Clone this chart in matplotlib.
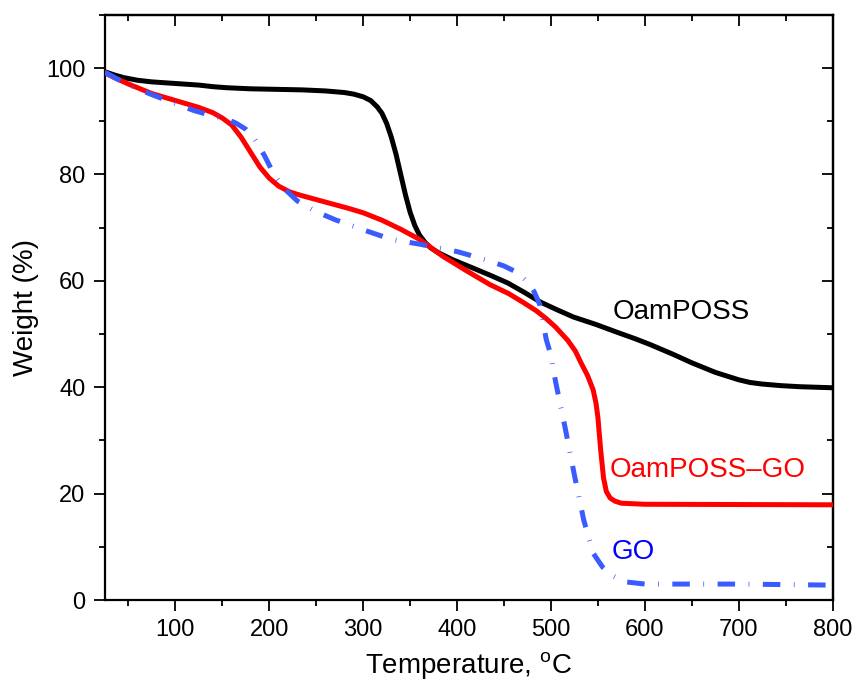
import matplotlib
matplotlib.use('Agg')
import matplotlib.pyplot as plt
from matplotlib.ticker import MultipleLocator

plt.rcParams['font.family'] = ['Liberation Sans', 'DejaVu Sans']
plt.rcParams['mathtext.fontset'] = 'custom'
plt.rcParams['mathtext.rm'] = 'Liberation Sans'

# OamPOSS (black)
poss_t = [25, 35, 45, 60, 75, 100, 125, 140, 155, 180, 235, 260, 280, 290, 300, 308, 315, 320,
          325, 330, 335, 340, 345, 350, 355, 360, 366, 372, 380, 395, 417, 436, 454, 472, 489,
          506, 524, 548, 571, 590, 606, 630, 650, 675, 700, 712, 725, 745, 765, 800]
poss_w = [99.3, 98.7, 98.2, 97.7, 97.4, 97.1, 96.8, 96.5, 96.3, 96.1, 95.9, 95.7, 95.4, 95.1, 94.6, 93.9, 92.7, 91.5,
          89.6, 87.0, 83.8, 80.0, 76.2, 72.9, 70.4, 68.6, 67.2, 66.2, 65.3, 64.0, 62.4, 61.0, 59.6, 57.8, 56.0,
          54.6, 53.2, 51.8, 50.3, 49.1, 48.0, 46.2, 44.6, 42.8, 41.4, 40.9, 40.6, 40.3, 40.1, 39.9]

# OamPOSS-GO (red)
hyb_t = [25, 35, 50, 75, 100, 125, 140, 150, 160, 170, 180, 190, 200, 210, 222, 235, 260, 285,
         300, 320, 340, 360, 385, 410, 435, 455, 470, 485, 495, 505, 518, 526, 532, 539, 545,
         548, 550, 553, 556, 559, 563, 568, 575, 600, 800]
hyb_w = [99.1, 98.2, 97.0, 95.2, 93.9, 92.6, 91.6, 90.6, 89.3, 87.0, 84.2, 81.4, 79.3, 77.8, 76.7, 76.0, 74.8, 73.6,
         72.8, 71.4, 69.7, 67.8, 64.6, 61.9, 59.3, 57.6, 56.0, 54.3, 52.9, 51.3, 48.8, 46.8, 44.6, 42.2, 39.5,
         37.0, 34.4, 28.2, 23.0, 20.4, 19.2, 18.6, 18.2, 18.0, 17.9]

# GO (blue dashed)
go_t = [25, 50, 75, 100, 120, 140, 155, 165, 175, 185, 195, 205, 215, 230, 250, 270, 300, 330,
        360, 400, 430, 450, 465, 475, 482, 488, 495, 500, 505, 515, 525, 535, 545, 555, 565,
        580, 600, 700, 800]
go_w = [99.2, 96.8, 95.0, 93.3, 92.0, 91.0, 90.4, 89.6, 88.5, 86.5, 83.5, 80.0, 77.5, 75.0, 73.0, 71.5, 69.6, 67.8,
        66.9, 65.5, 64.0, 62.8, 61.5, 59.8, 58.0, 55.6, 49.0, 46.0, 41.0, 32.5, 23.5, 15.0, 8.8, 6.2, 4.6,
        3.4, 3.0, 3.0, 2.8]

fig = plt.figure(figsize=(8.57, 6.82), dpi=100)
ax = fig.add_axes([0.1225, 0.1202, 0.849, 0.858])

ax.plot(poss_t, poss_w, color='black', lw=3.6, solid_joinstyle='round', zorder=2)
ax.plot(hyb_t, hyb_w, color='#ff0000', lw=3.6, solid_joinstyle='round', zorder=3)
ax.plot(go_t, go_w, color='#3a5cff', lw=3.6, dashes=(3.5, 2.7, 0.15, 2.7),
        dash_capstyle='butt', zorder=4)

ax.text(566, 54.2, 'OamPOSS', color='black', fontsize=20, va='center')
ax.text(563, 24.4, 'OamPOSS\u2013GO', color='#ff0000', fontsize=20, va='center')
ax.text(565, 9.0, 'GO', color='#0000ff', fontsize=20, va='center')

ax.set_xlim(25, 800)
ax.set_ylim(0, 110)
ax.xaxis.set_major_locator(MultipleLocator(100))
ax.xaxis.set_minor_locator(MultipleLocator(50))
ax.yaxis.set_major_locator(MultipleLocator(20))
ax.yaxis.set_minor_locator(MultipleLocator(10))

for s in ax.spines.values():
    s.set_linewidth(1.6)
ax.tick_params(which='major', direction='out', length=8, width=1.3, labelsize=17, pad=6)
ax.tick_params(which='minor', direction='out', length=4, width=1.3)

top = ax.secondary_xaxis('top')
top.xaxis.set_major_locator(MultipleLocator(100))
top.xaxis.set_minor_locator(MultipleLocator(50))
top.tick_params(which='major', direction='in', length=8, width=1.3, labeltop=False)
top.tick_params(which='minor', direction='in', length=4, width=1.3)
top.spines['top'].set_linewidth(1.6)

right = ax.secondary_yaxis('right')
right.yaxis.set_major_locator(MultipleLocator(20))
right.yaxis.set_minor_locator(MultipleLocator(10))
right.tick_params(which='major', direction='in', length=8, width=1.3, labelright=False)
right.tick_params(which='minor', direction='in', length=4, width=1.3)
right.spines['right'].set_linewidth(1.6)

ax.set_xlabel('Temperature, $^{\\mathregular{o}}$C', fontsize=20, labelpad=6)
ax.set_ylabel('Weight (%)', fontsize=20, labelpad=5)

fig.savefig('out.png', dpi=100)
